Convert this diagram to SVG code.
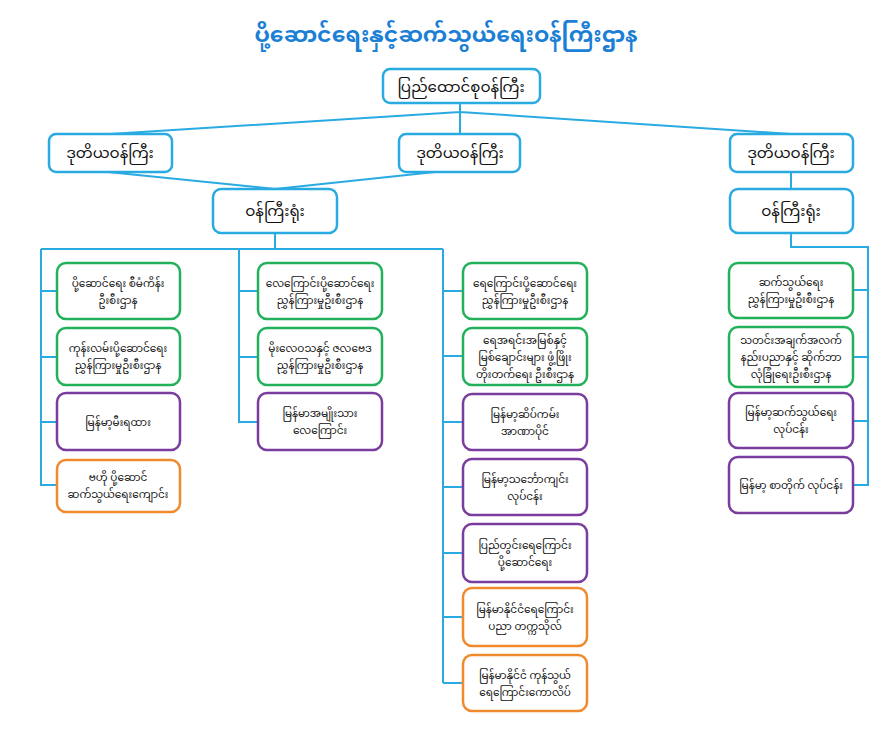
<svg xmlns="http://www.w3.org/2000/svg" width="892" height="730" viewBox="0 0 892 730">
<style>
text{font-family:"Noto Sans Myanmar","Padauk","Myanmar Text","Noto Sans","DejaVu Sans",sans-serif;text-anchor:middle;fill:#111}
.t{font-size:22px;fill:#1c7fd6;font-weight:bold}
.b{fill:#fff;stroke:#29abe2;stroke-width:2.5}
.g{fill:#fff;stroke:#22b05a;stroke-width:2.5}
.p{fill:#fff;stroke:#7a3d9e;stroke-width:2.5}
.o{fill:#fff;stroke:#f08a2c;stroke-width:2.5}
.h{font-size:15px}
.s{font-size:10.5px}
#conn path{fill:none;stroke:#29abe2;stroke-width:2}
</style>
<rect width="892" height="730" fill="#fff"/>
<text class="t" x="446" y="42">ပို့ဆောင်ရေးနှင့်ဆက်သွယ်ရေးဝန်ကြီးဌာန</text>
<g id="conn">
<path d="M460 103 V112 M460 112 L110 134 M460 112 V134 M460 112 L791 134"/>
<path d="M108 172 L275 189 M435 172 L275 189 M791 172 V189"/>
<path d="M275 233 V249 M41 249 H443 M239 249 V422 H258 M41 249 V485 H57 M41 291 H57 M41 357 H57 M41 422 H57 M239 291 H258 M239 357 H258"/>
<path d="M443 249 V683 M443 291 H463 M443 356 H463 M443 422 H463 M443 487 H463 M443 553 H463 M443 617 H463 M443 683 H463"/>
<path d="M791 233 V247 H868 V485 H853 M868 290 H853 M868 357 H853 M868 421 H853"/>
</g>
<g id="n-top"><rect class="b" x="383" y="69" width="157" height="34" rx="7"/><text class="h" x="461" y="92">ပြည်ထောင်စုဝန်ကြီး</text></g>
<g id="n-dep1"><rect class="b" x="49" y="134" width="123" height="38" rx="7"/><text class="h" x="110" y="158">ဒုတိယဝန်ကြီး</text></g>
<g id="n-dep2"><rect class="b" x="399" y="134" width="121" height="38" rx="7"/><text class="h" x="460" y="158">ဒုတိယဝန်ကြီး</text></g>
<g id="n-dep3"><rect class="b" x="730" y="134" width="123" height="38" rx="7"/><text class="h" x="791" y="158">ဒုတိယဝန်ကြီး</text></g>
<g id="n-off1"><rect class="b" x="213" y="189" width="124" height="44" rx="8"/><text class="h" x="275" y="216">ဝန်ကြီးရုံး</text></g>
<g id="n-off2"><rect class="b" x="730" y="189" width="123" height="44" rx="8"/><text class="h" x="791" y="216">ဝန်ကြီးရုံး</text></g>

<g id="a1"><rect class="g" x="57" y="263" width="123" height="56" rx="9"/><text class="s" x="118" y="287">ပို့ဆောင်ရေး စီမံကိန်း<tspan x="118" dy="17">ဦးစီးဌာန</tspan></text></g>
<g id="a2"><rect class="g" x="57" y="328" width="123" height="57" rx="9"/><text class="s" x="118" y="352">ကုန်းလမ်းပို့ဆောင်ရေး<tspan x="118" dy="17">ညွှန်ကြားမှုဦးစီးဌာန</tspan></text></g>
<g id="a3"><rect class="p" x="57" y="393" width="123" height="57" rx="9"/><text class="s" x="118" y="426">မြန်မာ့မီးရထား</text></g>
<g id="a4"><rect class="o" x="57" y="460" width="123" height="52" rx="9"/><text class="s" x="118" y="481">ဗဟို ပို့ဆောင်<tspan x="118" dy="17">ဆက်သွယ်ရေးကျောင်း</tspan></text></g>

<g id="b1"><rect class="g" x="258" y="263" width="124" height="56" rx="9"/><text class="s" x="320" y="287">လေကြောင်းပို့ဆောင်ရေး<tspan x="320" dy="17">ညွှန်ကြားမှုဦးစီးဌာန</tspan></text></g>
<g id="b2"><rect class="g" x="258" y="328" width="124" height="57" rx="9"/><text class="s" x="320" y="352">မိုးလေဝသနှင့် ဇလဗေဒ<tspan x="320" dy="17">ညွှန်ကြားမှုဦးစီးဌာန</tspan></text></g>
<g id="b3"><rect class="p" x="258" y="393" width="124" height="57" rx="9"/><text class="s" x="320" y="417">မြန်မာအမျိုးသား<tspan x="320" dy="17">လေကြောင်း</tspan></text></g>

<g id="c1"><rect class="g" x="463" y="263" width="124" height="56" rx="9"/><text class="s" x="525" y="287">ရေကြောင်းပို့ဆောင်ရေး<tspan x="525" dy="17">ညွှန်ကြားမှုဦးစီးဌာန</tspan></text></g>
<g id="c2"><rect class="g" x="463" y="328" width="124" height="57" rx="9"/><text class="s" x="525" y="344">ရေအရင်းအမြစ်နှင့်<tspan x="525" dy="17">မြစ်ချောင်းများ ဖွံ့ဖြိုး</tspan><tspan x="525" dy="17">တိုးတက်ရေး ဦးစီးဌာန</tspan></text></g>
<g id="c3"><rect class="p" x="463" y="394" width="124" height="56" rx="9"/><text class="s" x="525" y="418">မြန်မာ့ဆိပ်ကမ်း<tspan x="525" dy="17">အာဏာပိုင်</tspan></text></g>
<g id="c4"><rect class="p" x="463" y="459" width="124" height="56" rx="9"/><text class="s" x="525" y="483">မြန်မာ့သင်္ဘောကျင်း<tspan x="525" dy="17">လုပ်ငန်း</tspan></text></g>
<g id="c5"><rect class="p" x="463" y="524" width="124" height="58" rx="9"/><text class="s" x="525" y="549">ပြည်တွင်းရေကြောင်း<tspan x="525" dy="17">ပို့ဆောင်ရေး</tspan></text></g>
<g id="c6"><rect class="o" x="463" y="588" width="124" height="58" rx="9"/><text class="s" x="525" y="613">မြန်မာနိုင်ငံရေကြောင်း<tspan x="525" dy="17">ပညာ တက္ကသိုလ်</tspan></text></g>
<g id="c7"><rect class="o" x="463" y="655" width="124" height="56" rx="9"/><text class="s" x="525" y="679">မြန်မာနိုင်ငံ ကုန်သွယ်<tspan x="525" dy="17">ရေကြောင်းကောလိပ်</tspan></text></g>

<g id="d1"><rect class="g" x="729" y="263" width="124" height="55" rx="9"/><text class="s" x="791" y="286">ဆက်သွယ်ရေး<tspan x="791" dy="17">ညွှန်ကြားမှုဦးစီးဌာန</tspan></text></g>
<g id="d2"><rect class="g" x="729" y="327" width="124" height="60" rx="9"/><text class="s" x="791" y="344">သတင်းအချက်အလက်<tspan x="791" dy="17">နည်းပညာနှင့် ဆိုက်ဘာ</tspan><tspan x="791" dy="17">လုံခြုံရေးဦးစီးဌာန</tspan></text></g>
<g id="d3"><rect class="p" x="729" y="393" width="124" height="55" rx="9"/><text class="s" x="791" y="416">မြန်မာ့ဆက်သွယ်ရေး<tspan x="791" dy="17">လုပ်ငန်း</tspan></text></g>
<g id="d4"><rect class="p" x="729" y="457" width="124" height="56" rx="9"/><text class="s" x="791" y="489">မြန်မာ့ စာတိုက် လုပ်ငန်း</text></g>
</svg>
